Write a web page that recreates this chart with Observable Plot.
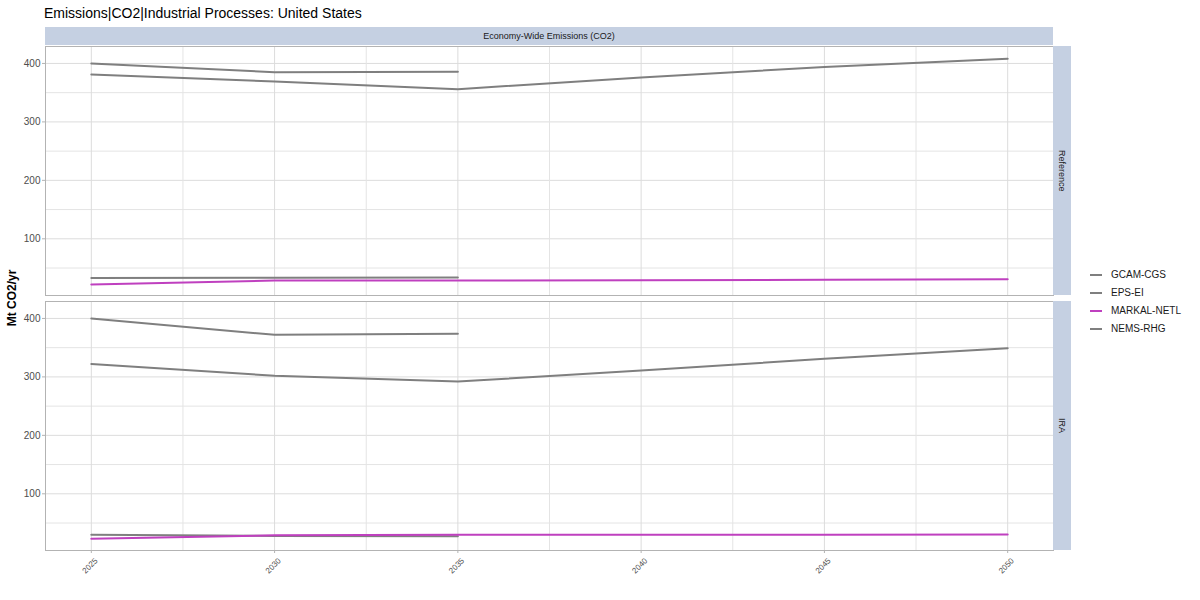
<!DOCTYPE html>
<html><head><meta charset="utf-8">
<script src="https://cdn.jsdelivr.net/npm/d3@7"></script>
<script src="https://cdn.jsdelivr.net/npm/@observablehq/plot@0.6"></script>
<style>
body{margin:0;background:#fff;font-family:"Liberation Sans",Arial,sans-serif;}
#root{position:relative;width:1200px;height:600px;overflow:hidden;background:#fff;}
.abs{position:absolute;}
.strip{position:absolute;background:#c5d0e2;color:#1a1a1a;font-size:9px;display:flex;align-items:center;justify-content:center;}
</style></head><body><div id="root"></div>
<script>
// ---- data ----
const title = "Emissions|CO2|Industrial Processes: United States";
const facetCol = "Economy-Wide Emissions (CO2)";
const scenarios = ["Reference", "IRA"];
const years = [2025, 2030, 2035, 2040, 2045, 2050];
const models = ["GCAM-CGS", "EPS-EI", "MARKAL-NETL", "NEMS-RHG"];
const modelColors = ["#7f7f7f", "#7f7f7f", "#bf40bf", "#7f7f7f"];
const yLabel = "Mt CO2/yr";
const yTicks = [100, 200, 300, 400];
const yMinor = [50, 150, 250, 350];
const xTicks = [2025, 2030, 2035, 2040, 2045, 2050];
const xMinor = [2027.5, 2032.5, 2037.5, 2042.5, 2047.5];

// Reference scenario
const refGCAM   = [400, 385, 386, null, null, null];
const refEPS    = [33, 33.5, 34, null, null, null];
const refMARKAL = [22, 28.5, 28.5, 29, 30, 31];
const refNEMS   = [381, 369, 356, 376, 394, 408];
// IRA scenario
const iraGCAM   = [400, 372, 374, null, null, null];
const iraEPS    = [30, 28, 27.5, null, null, null];
const iraMARKAL = [23, 29, 30, 30, 30, 30.5];
const iraNEMS   = [322, 302, 292, 311, 331, 349];

const series = {
  "Reference": [refGCAM, refEPS, refMARKAL, refNEMS],
  "IRA": [iraGCAM, iraEPS, iraMARKAL, iraNEMS]
};

const rows = [];
for (const s of scenarios) {
  series[s].forEach((vals, mi) => {
    vals.forEach((v, yi) => {
      if (v != null) rows.push({scenario: s, model: models[mi], year: years[yi], value: v});
    });
  });
}

const root = document.getElementById("root");
function add(el, css) { Object.assign(el.style, css); root.appendChild(el); return el; }
function div(text, cls, css) { const d = document.createElement("div"); if (cls) d.className = cls; d.textContent = text; return add(d, css); }

// title
div(title, "abs", {left: "44px", top: "4px", fontSize: "14px", color: "#000", whiteSpace: "nowrap", lineHeight: "18px"});

const L = 45, R = 1053;
const panels = [{s: "Reference", top: 46, h: 249, showX: false}, {s: "IRA", top: 301, h: 249, showX: true}];

for (const p of panels) {
  const marks = [
    Plot.gridY(yMinor, {stroke: "#e4e4e4", strokeOpacity: 1}),
    Plot.gridY(yTicks, {stroke: "#dcdcdc", strokeOpacity: 1}),
    Plot.gridX(xMinor, {stroke: "#e4e4e4", strokeOpacity: 1}),
    Plot.gridX(xTicks, {stroke: "#dcdcdc", strokeOpacity: 1}),
    Plot.line(rows.filter(d => d.scenario === p.s), {x: "year", y: "value", z: "model", stroke: "model", strokeWidth: 2}),
    Plot.frame({stroke: "#b3b3b3"}),
    Plot.axisY(yTicks, {tickSize: 3, tickPadding: 2, fontSize: 10, fill: "#4d4d4d", stroke: "#b3b3b3", label: null})
  ];
  if (p.showX) {
    marks.push(Plot.axisX(xTicks, {tickSize: 3, tickFormat: () => "", stroke: "#b3b3b3", label: null}));
    marks.push(Plot.axisX(xTicks, {tickRotate: -45, tickFormat: d => String(d), fontSize: 8, tickSize: 0, tickPadding: 5, dx: 5, dy: 4, fill: "#4d4d4d", label: null}));
  }
  const svg = Plot.plot({
    width: 1200, height: p.h + (p.showX ? 50 : 0),
    marginLeft: L, marginRight: 1200 - R, marginTop: 0, marginBottom: p.showX ? 50 : 0,
    x: {domain: [2023.75, 2051.25], axis: p.showX ? undefined : null},
    y: {domain: [3, 429]},
    color: {domain: models, range: modelColors},
    style: {background: "transparent", overflow: "visible", fontFamily: "Liberation Sans, Arial, sans-serif"},
    marks
  });
  add(svg, {position: "absolute", left: "0px", top: p.top + "px"});
  // right strip
  const st = div("", "strip", {left: R + "px", top: p.top + "px", width: "18px", height: p.h + "px"});
  const sp = document.createElement("span"); sp.textContent = p.s; sp.style.writingMode = "vertical-rl"; st.appendChild(sp);
}

// top strip
div(facetCol, "strip", {left: L + "px", top: "27px", width: (R - L) + "px", height: "18px"});

// y label
div(yLabel, "abs", {left: "12px", top: "298px", fontSize: "12px", fontWeight: "bold", color: "#000", whiteSpace: "nowrap", transform: "translate(-50%,-50%) rotate(-90deg)"});

// legend
models.forEach((m, i) => {
  const y = 275 + 18 * i;
  div("", "abs", {left: "1090px", top: (y - 1) + "px", width: "12px", height: "2px", background: modelColors[i]});
  div(m, "abs", {left: "1111px", top: (y - 7) + "px", fontSize: "10px", lineHeight: "14px", color: "#1a1a1a", whiteSpace: "nowrap"});
});
</script>
</body></html>
